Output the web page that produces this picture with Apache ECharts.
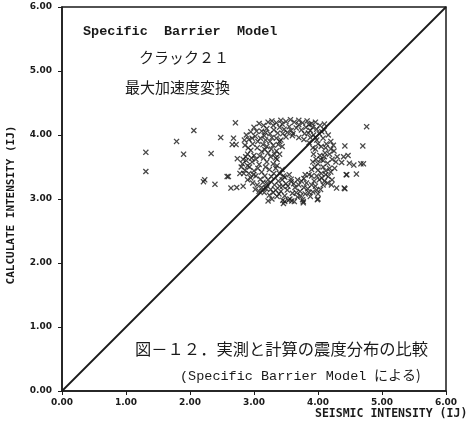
<!DOCTYPE html>
<html>
<head>
<meta charset="utf-8">
<script src="https://cdn.jsdelivr.net/npm/echarts@6/dist/echarts.min.js"></script>
<style>html,body{margin:0;padding:0;background:#fff}#c{width:475px;height:421px}</style>
</head>
<body>
<div id="c"></div>
<script>
// Axis ticks (both axes 0.00 .. 6.00)
var tickValues = [0, 1, 2, 3, 4, 5, 6];
// Reference line: calculated = observed
var diagonal = [[0, 0], [6, 6]];
// Outlying points
var outliers = [
  [1.31,3.73],[1.31,3.43],[1.79,3.90],[1.90,3.70],[2.06,4.07],[2.33,3.71],[2.48,3.96],
  [2.71,4.19],[2.68,3.95],[2.72,3.85],[2.66,3.85],[2.74,3.63],[2.23,3.30],[2.21,3.27],
  [2.39,3.23],[2.60,3.35],[2.64,3.17],[2.73,3.18],[2.83,3.20],[2.78,3.40],[2.58,3.35],
  [4.76,4.13],[4.42,3.83],[4.70,3.83],[4.40,3.66],[4.47,3.68],[4.67,3.55],[4.71,3.55],
  [4.45,3.38],[4.60,3.39],[4.42,3.16],[4.37,3.57],[4.49,3.56],[4.56,3.53],[4.44,3.38],
  [4.29,3.17],[4.41,3.17],[4.00,3.00],[4.21,3.22],[3.22,2.97],[3.48,2.96],[3.46,2.93],
  [3.59,2.97],[3.77,2.96],[3.77,2.94],[3.99,2.99]
];
// Main cluster points
var cluster = [
  [3.00,4.12],[3.08,4.18],[3.15,4.15],[3.22,4.20],[3.28,4.22],[3.35,4.19],[3.42,4.23],[3.50,4.21],
  [3.57,4.24],[3.63,4.20],[3.70,4.23],[3.76,4.19],[3.83,4.22],[3.90,4.18],[3.96,4.20],[4.03,4.15],
  [4.10,4.17],[3.12,4.06],[3.20,4.10],[3.31,4.08],[3.40,4.12],[3.47,4.09],[3.55,4.13],[3.66,4.11],
  [3.74,4.08],[3.81,4.12],[3.88,4.07],[3.98,4.09],[4.06,4.05],[3.25,4.02],[3.37,4.03],[3.52,4.04],
  [3.61,4.02],[3.79,4.02],[3.93,4.00],
  [2.88,4.00],[2.95,4.05],[2.92,3.93],[3.02,3.98],[3.06,3.90],[2.98,3.86],[2.86,3.84],[3.10,3.95],
  [3.14,3.85],[3.18,3.92],[3.05,3.80],[2.95,3.76],[3.20,3.82],[3.25,3.90],[3.28,3.96],[3.12,3.74],
  [3.22,3.72],[2.90,3.70],[3.30,3.84],[3.35,3.95],[3.00,3.68],[2.83,3.62],
  [2.82,3.55],[2.88,3.60],[2.93,3.50],[2.97,3.58],[3.03,3.62],[3.08,3.54],[3.15,3.64],[3.20,3.58],
  [3.26,3.66],[3.30,3.55],[2.86,3.45],[2.92,3.40],[3.00,3.44],[3.06,3.48],[3.12,3.42],[3.18,3.50],
  [3.24,3.46],[3.31,3.40],[2.95,3.33],[3.03,3.36],[3.10,3.31],[3.17,3.36],[3.22,3.30],[2.80,3.50],
  [3.34,3.48],[3.36,3.62],[2.90,3.52],
  [2.98,3.25],[3.05,3.22],[3.12,3.18],[3.20,3.24],[3.26,3.15],[3.32,3.22],[3.38,3.28],[3.08,3.12],
  [3.16,3.10],[3.24,3.06],[3.30,3.10],[3.36,3.04],[3.42,3.12],[3.45,3.20],[3.02,3.15],[3.28,3.00],
  [3.48,3.05],[3.52,3.14],[3.56,3.00],[3.60,3.09],[3.64,3.18],[3.68,3.03],[3.72,3.12],[3.76,2.99],
  [3.80,3.08],[3.84,3.16],[3.88,3.04],[3.92,3.11],[3.96,3.20],[4.00,3.08],[4.04,3.15],[3.50,3.24],
  [3.58,3.27],[3.70,3.22],[3.82,3.25],[3.94,3.28],[4.08,3.22],[3.63,2.96],[3.54,2.98],[3.74,3.28],
  [3.45,2.98],
  [4.02,3.30],[4.10,3.28],[4.16,3.35],[4.22,3.30],[4.05,3.40],[4.12,3.44],[4.20,3.42],[4.26,3.48],
  [3.98,3.36],[4.08,3.50],[4.15,3.25],
  [4.00,3.55],[4.08,3.60],[4.15,3.56],[4.22,3.62],[4.28,3.58],[4.03,3.68],[4.11,3.72],[4.18,3.70],
  [4.25,3.75],[3.96,3.78],[4.05,3.82],[4.13,3.86],[4.20,3.90],[3.98,3.92],[4.08,3.95],[4.16,4.00],
  [4.02,4.02],[4.24,3.84],[4.30,3.66],
  [3.35,3.75],[3.38,3.85],[3.42,3.92],[3.50,3.97],[3.60,3.99],[3.70,3.96],[3.78,3.93],[3.86,3.88],
  [3.92,3.80],[3.93,3.70],[3.92,3.58],[3.90,3.46],[3.86,3.38],[3.78,3.32],[3.68,3.30],[3.58,3.31],
  [3.48,3.34],[3.40,3.40],[3.36,3.52],[3.34,3.64],
  [2.85,3.92],[2.91,3.80],[2.97,3.95],[3.04,4.06],[3.16,3.99],[3.09,3.67],[3.17,3.77],[2.87,3.66],
  [2.96,3.64],[3.27,3.78],[3.32,3.70],[2.84,3.40],[2.90,3.30],[2.99,3.38],[3.14,3.26],[3.27,3.35],
  [3.19,3.16],[3.34,3.14],[3.40,3.20],[3.39,3.08],[3.44,3.30],[3.53,3.20],[3.62,3.24],[3.66,3.10],
  [3.73,3.05],[3.78,3.18],[3.86,3.10],[3.90,3.22],[3.98,3.14],[4.06,3.33],[4.12,3.38],[4.18,3.48],
  [4.00,3.45],[4.04,3.62],[4.10,3.66],[4.20,3.78],[4.12,3.80],[4.00,3.86],[4.10,4.08],[3.92,4.12],
  [3.86,4.16],[3.70,4.16],[3.44,4.17],[3.30,4.15],[3.18,4.04],[3.45,4.02],[3.58,4.07],[3.85,4.03],
  [3.96,3.96],[3.40,3.90],[3.44,3.82],[3.40,3.70],[3.88,3.96],[3.97,3.62],[3.95,3.50],[3.90,3.36],
  [3.80,3.38],[3.55,3.38],[3.44,3.46],[3.46,3.36]
];
// Annotation texts
var titleLines = ['Specific  Barrier  Model', 'クラック２１', '最大加速度変換'];
var captionLines = ['図－１２．実測と計算の震度分布の比較', '(Specific Barrier Model ', 'による)'];
var xAxisName = 'SEISMIC INTENSITY (IJ)';
var yAxisName = 'CALCULATE INTENSITY (IJ)';

var ink = '#1a1a1a';
var xMark = 'path://M0,1.5L1.5,0L5,3.5L8.5,0L10,1.5L6.5,5L10,8.5L8.5,10L5,6.5L1.5,10L0,8.5L3.5,5Z';
var chart = echarts.init(document.getElementById('c'), null, {renderer: 'canvas'});
var axisCommon = {
  type: 'value', min: tickValues[0], max: tickValues[tickValues.length - 1], interval: 1,
  axisLine: {show: true, lineStyle: {color: ink, width: 1.5}},
  axisTick: {show: true, inside: false, length: 4, lineStyle: {color: ink, width: 1}},
  splitLine: {show: false},
  axisLabel: {color: ink, fontFamily: 'DejaVu Sans', fontWeight: 'bold', fontSize: 9,
    formatter: function (v) { return v.toFixed(2); }}
};
chart.setOption({
  animation: false,
  backgroundColor: '#fff',
  grid: {left: 62, right: 29, top: 7, bottom: 30, show: true, borderColor: ink, borderWidth: 1.5},
  xAxis: Object.assign({}, axisCommon, {axisLabel: Object.assign({}, axisCommon.axisLabel, {margin: 7})}),
  yAxis: Object.assign({}, axisCommon, {axisLabel: Object.assign({}, axisCommon.axisLabel, {margin: 10})}),
  graphic: [
    {type: 'text', left: 83, top: 25, style: {text: titleLines[0], font: 'bold 13.5px "Liberation Mono"', fill: ink}},
    {type: 'text', left: 139, top: 50, style: {text: titleLines[1], font: '15px "Noto Sans CJK JP"', fill: ink}},
    {type: 'text', left: 125, top: 80, style: {text: titleLines[2], font: '15px "Noto Sans CJK JP"', fill: ink}},
    {type: 'text', left: 135, top: 341, style: {text: captionLines[0], font: '16.3px "Noto Sans CJK JP"', fill: ink}},
    {type: 'text', left: 180, top: 369, style: {text: captionLines[1], font: '13.5px "Liberation Mono"', fill: ink}},
    {type: 'text', left: 374, top: 368, style: {text: captionLines[2], font: '14px "Noto Sans CJK JP"', fill: ink}},
    {type: 'text', left: 315, top: 408, style: {text: xAxisName, font: 'bold 11.5px "DejaVu Sans Mono"', fill: ink}},
    {type: 'text', x: 11, y: 205, rotation: Math.PI / 2, style: {text: yAxisName, font: 'bold 11px "DejaVu Sans Mono"', fill: ink, align: 'center', verticalAlign: 'middle'}}
  ],
  series: [
    {type: 'line', data: diagonal, showSymbol: false, symbol: 'none', lineStyle: {color: ink, width: 1.8}, z: 3},
    {type: 'scatter', data: cluster, symbol: xMark, symbolSize: 6, itemStyle: {color: ink}, z: 4},
    {type: 'scatter', data: outliers, symbol: xMark, symbolSize: 6, itemStyle: {color: ink}, z: 4}
  ]
});
</script>
</body>
</html>
